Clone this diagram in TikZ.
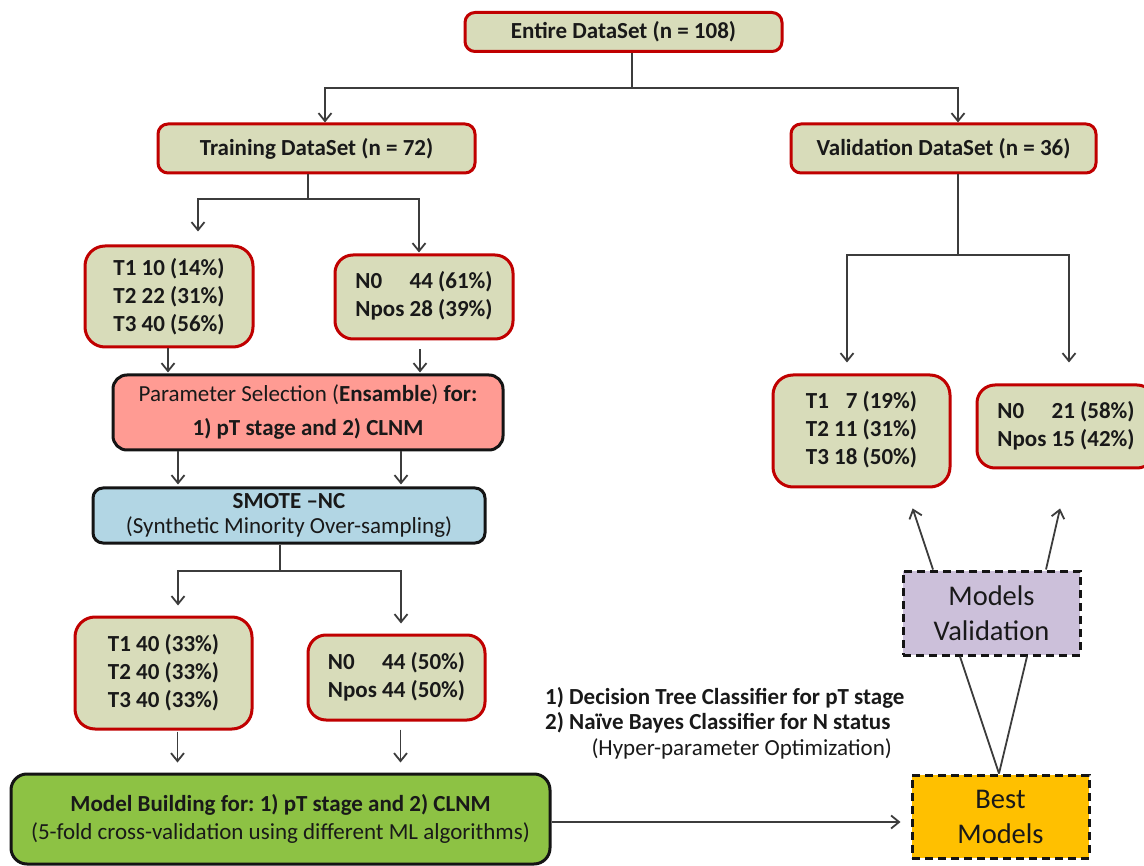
\documentclass[tikz,border=0pt]{standalone}
\usepackage{fontspec}
\setmainfont{Carlito}
\usetikzlibrary{arrows.meta}
\frenchspacing
\definecolor{boxred}{RGB}{192,0,0}
\definecolor{tanfill}{RGB}{216,220,186}
\definecolor{pinkfill}{RGB}{255,155,147}
\definecolor{bluefill}{RGB}{178,214,228}
\definecolor{greenfill}{RGB}{141,194,68}
\definecolor{orangefill}{RGB}{255,192,0}
\definecolor{purplefill}{RGB}{204,192,218}
\definecolor{txt}{RGB}{25,25,25}
\definecolor{lnc}{RGB}{60,60,60}
\definecolor{edgeblk}{RGB}{20,20,20}
\begin{document}
\begin{tikzpicture}[x=1pt,y=-1pt,
  redbox/.style={draw=boxred, line width=3pt, fill=tanfill, rounded corners=10pt, inner sep=0pt, align=center, text=txt, font=\bfseries\fontsize{23}{28}\selectfont},
  blkbox/.style={draw=edgeblk, line width=3pt, rounded corners=12pt, inner sep=0pt, align=center, text=txt, font=\fontsize{23}{28}\selectfont},
  dashbox/.style={draw=edgeblk, line width=3pt, dash pattern=on 8pt off 5pt, inner sep=0pt, align=center, text=txt, font=\fontsize{28.5}{35}\selectfont},
  ln/.style={draw=lnc, line width=1.8pt},
  arr/.style={ln, -{Straight Barb[length=8pt,width=13pt]}},
  lbl/.style={inner sep=0pt, text=txt, font=\fontsize{23}{25}\selectfont}
]
\useasboundingbox (0,0) rectangle (1144,866);
\fill[white] (0,0) rectangle (1144,866);

% top level
\node[redbox, minimum width=317pt, minimum height=39pt] (entire) at (623.5,32) {Entire DataSet (n = 108)};
\node[redbox, minimum width=317pt, minimum height=49pt] (training) at (316.5,148.5) {Training DataSet (n = 72)};
\node[redbox, minimum width=305pt, minimum height=49pt] (validation) at (943.5,148.5) {Validation DataSet (n = 36)};

% training split
\node[redbox, rounded corners=20pt, minimum width=168pt, minimum height=101pt] (tbox1) at (169,296.5) {T1 10 (14\%)\\T2 22 (31\%)\\T3 40 (56\%)};
\node[redbox, rounded corners=18pt, minimum width=178pt, minimum height=84pt] (nbox1) at (424,297) {\begin{tabular}{@{}l@{\ }r@{}}N0 & 44 (61\%)\\Npos & 28 (39\%)\end{tabular}};

\node[blkbox, fill=pinkfill, rounded corners=14pt, minimum width=390pt, minimum height=75pt] (param) at (308,412.5) {Parameter Selection (\textbf{Ensamble}) \textbf{for:}\\[6pt]\textbf{1) pT stage and 2) CLNM}};
\node[blkbox, fill=bluefill, rounded corners=10pt, minimum width=392pt, minimum height=55pt, font=\fontsize{23}{25}\selectfont] (smote) at (289,515.5) {\textbf{SMOTE –NC}\\(Synthetic Minority Over-sampling)};

\node[redbox, rounded corners=20pt, minimum width=177pt, minimum height=112pt] (tbox2) at (163.5,673) {T1 40 (33\%)\\T2 40 (33\%)\\T3 40 (33\%)};
\node[redbox, rounded corners=18pt, minimum width=177pt, minimum height=85pt] (nbox2) at (396.5,677.5) {\begin{tabular}{@{}l@{\ }r@{}}N0 & 44 (50\%)\\Npos & 44 (50\%)\end{tabular}};

\node[blkbox, fill=greenfill, rounded corners=16pt, minimum width=539pt, minimum height=90pt] (model) at (280.5,819) {\textbf{Model Building for: 1) pT stage and 2) CLNM}\\(5-fold cross-validation using different ML algorithms)};

% validation split
\node[redbox, rounded corners=20pt, minimum width=177pt, minimum height=112pt] (vtbox) at (861.5,431) {\begin{tabular}{@{}l@{\ }r@{}}T1 & 7 (19\%)\\T2 & 11 (31\%)\\T3 & 18 (50\%)\end{tabular}};
\node[redbox, rounded corners=18pt, minimum width=178pt, minimum height=83pt] (vnbox) at (1066,426.5) {\begin{tabular}{@{}l@{\ }r@{}}N0 & 21 (58\%)\\Npos & 15 (42\%)\end{tabular}};

\node[dashbox, fill=purplefill, minimum width=177pt, minimum height=84pt] (mv) at (991.5,613) {Models\\Validation};
\node[dashbox, fill=orangefill, minimum width=177pt, minimum height=83pt] (best) at (1000.5,816.5) {Best\\Models};

% labels
\node[lbl, font=\bfseries\fontsize{23}{25}\selectfont, anchor=west] (l1) at (545,698) {1) Decision Tree Classifier for pT stage};
\node[lbl, font=\bfseries\fontsize{23}{25}\selectfont, anchor=west] (l2) at (545,723) {2) Naïve Bayes Classifier for N status};
\node[lbl, anchor=east] (l3) at (892,749) {(Hyper-parameter Optimization)};

% connectors
\coordinate (j1) at (632,88);
\draw[ln] ([xshift=8.5pt]entire.south) -- (j1);
\draw[arr] (j1) -| ([xshift=8.5pt]training.north);
\draw[arr] (j1) -| ([xshift=14.5pt]validation.north);

\coordinate (j2) at (308,199);
\draw[ln] ([xshift=-8.5pt]training.south) -- (j2);
\draw[arr, shorten >=13pt] (j2) -| ([xshift=29pt]tbox1.north);
\draw[arr, shorten >=1pt] (j2) -| ([xshift=-5pt]nbox1.north);

\draw[arr, shorten >=1pt] ([xshift=-1pt]tbox1.south) -- ([xshift=-140pt]param.north);
\draw[arr, shorten >=1pt] ([xshift=-4pt,yshift=-9pt]nbox1.south) -- ([xshift=112pt]param.north);

\draw[arr, shorten >=2pt] ([xshift=-130pt]param.south) -- ([xshift=-111pt]smote.north);
\draw[arr, shorten >=2pt] ([xshift=93pt]param.south) -- ([xshift=112pt]smote.north);

\coordinate (j3) at (280,571);
\draw[ln] ([xshift=-9pt]smote.south) -- (j3);
\draw[arr, shorten >=10pt] (j3) -| ([xshift=14.5pt]tbox2.north);
\draw[arr, shorten >=10pt] (j3) -| ([xshift=4.5pt]nbox2.north);

\draw[arr, shorten >=10pt] ([xshift=14pt,yshift=-1pt]tbox2.south) -- ([xshift=-103pt]model.north);
\draw[arr, shorten >=10pt] ([xshift=4pt,yshift=-8pt]nbox2.south) -- ([xshift=120pt]model.north);

\coordinate (m1) at ([yshift=-3pt]model.east);
\draw[arr, shorten >=10pt] (m1) -- (m1 -| best.west);

\coordinate (j4) at (958,255);
\draw[ln] ([xshift=14.5pt]validation.south) -- (j4);
\draw[arr, shorten >=11pt] (j4) -| ([xshift=-14.5pt]vtbox.north);
\draw[arr, shorten >=21pt] (j4) -| ([xshift=3pt]vnbox.north);

\draw[ln] ([xshift=-1.5pt]best.north) -- ([xshift=-31.5pt]mv.south);
\draw[ln] ([xshift=-1.5pt]best.north) -- ([xshift=35.5pt]mv.south);

\draw[arr, shorten >=21pt] ([xshift=-58.5pt]mv.north) -- ([xshift=44.5pt]vtbox.south);
\draw[arr, shorten >=40pt] ([xshift=54.5pt]mv.north) -- ([xshift=3pt]vnbox.south);
\end{tikzpicture}
\end{document}
